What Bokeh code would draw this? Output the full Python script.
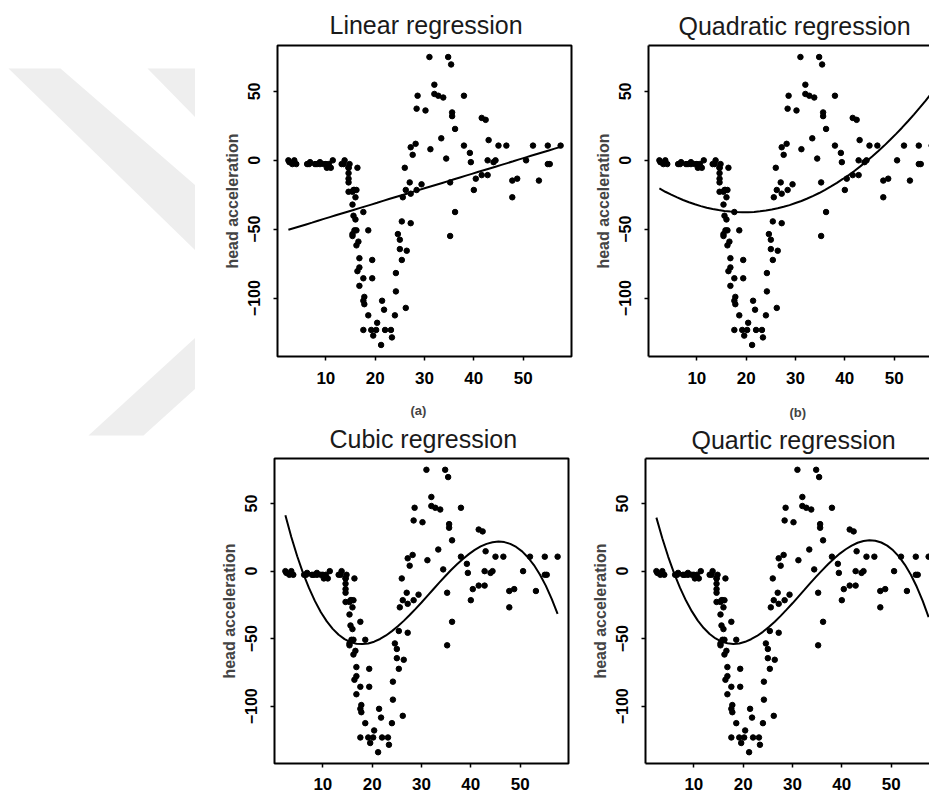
from bokeh.plotting import figure
from bokeh.layouts import row, column
from bokeh.models import Range1d, FixedTicker, LinearAxis, Title
from bokeh.embed import file_html
from bokeh.resources import INLINE

times = [2.4, 2.6, 3.2, 3.6, 4.0, 6.2, 6.6, 6.8, 7.8, 8.2, 8.8, 8.8, 9.6, 10.0, 10.2,
         10.6, 11.0, 11.4, 13.2, 13.6, 13.8, 14.6, 14.6, 14.6, 14.6, 14.6, 14.6, 14.8, 15.4, 15.4,
         15.4, 15.4, 15.6, 15.6, 15.8, 15.8, 16.0, 16.0, 16.2, 16.2, 16.2, 16.4, 16.4, 16.6, 16.8,
         16.8, 16.8, 17.6, 17.6, 17.6, 17.6, 17.8, 17.8, 18.6, 18.6, 19.2, 19.4, 19.4, 19.6, 20.2,
         20.4, 21.2, 21.4, 21.8, 22.0, 23.2, 23.4, 24.0, 24.2, 24.2, 24.6, 25.0, 25.0, 25.4, 25.4,
         25.6, 26.0, 26.2, 26.2, 26.4, 27.0, 27.2, 27.2, 27.2, 27.6, 28.2, 28.4, 28.4, 28.6, 29.4,
         30.2, 31.0, 31.2, 32.0, 32.0, 32.8, 33.4, 33.8, 34.4, 34.8, 35.2, 35.2, 35.4, 35.6, 35.6,
         36.2, 36.2, 38.0, 38.0, 39.2, 39.4, 40.0, 40.4, 41.6, 41.6, 42.4, 42.8, 42.8, 43.0, 44.0,
         44.4, 45.0, 46.6, 47.8, 47.8, 48.8, 50.6, 52.0, 53.2, 55.0, 55.0, 55.4, 57.6]
accel = [0.0, -1.3, -2.7, 0.0, -2.7, -2.7, -2.7, -1.3, -2.7, -2.7,
         -1.3, -2.7, -2.7, -2.7, -5.4, -2.7, -5.4, 0.0, -2.7, -2.7,
         0.0, -13.3, -5.4, -5.4, -9.3, -16.0, -22.8, -2.7, -22.8, -32.1,
         -53.5, -54.9, -40.2, -21.5, -21.5, -50.8, -42.9, -26.8, -21.5, -50.8,
         -61.7, -5.4, -80.4, -59.0, -71.0, -91.1, -77.7, -37.5, -85.6, -123.1,
         -101.9, -99.1, -104.4, -112.5, -50.8, -123.1, -85.6, -72.3, -127.2, -123.1,
         -117.9, -134.0, -101.9, -108.4, -123.1, -123.1, -128.5, -112.5, -95.1, -81.8,
         -53.5, -64.4, -57.6, -72.3, -44.3, -26.8, -5.4, -107.1, -21.5, -65.6,
         -16.0, -45.6, -24.2, 9.5, 4.0, 12.0, -21.5, 37.5, 46.9, -17.4,
         36.2, 75.0, 8.1, 54.9, 48.2, 46.9, 16.0, 45.6, 1.3, 75.0,
         -16.0, -54.9, 69.6, 34.8, 32.1, -37.5, 22.8, 46.9, 10.7, 5.4,
         -1.3, -21.5, -13.3, 30.8, -10.7, 29.4, 0.0, -10.7, 14.7, -1.3,
         0.0, 10.7, 10.7, -26.8, -14.7, -13.3, 0.0, 10.7, -14.7, -2.7,
         10.7, -2.7, 10.7]

# x positions at which the fitted curves were read (2.4 .. 57.6 every 1.2)
curve_x = [2.4, 3.6, 4.8, 6.0, 7.2, 8.4, 9.6, 10.8, 12.0, 13.2, 14.4, 15.6, 16.8, 18.0,
           19.2, 20.4, 21.6, 22.8, 24.0, 25.2, 26.4, 27.6, 28.8, 30.0, 31.2, 32.4, 33.6,
           34.8, 36.0, 37.2, 38.4, 39.6, 40.8, 42.0, 43.2, 44.4, 45.6, 46.8, 48.0, 49.2,
           50.4, 51.6, 52.8, 54.0, 55.2, 56.4, 57.6]
linear_fit = [-50.4, -49.1, -47.8, -46.5, -45.2, -43.8, -42.5, -41.2, -39.9, -38.6, -37.3,
              -36.0, -34.7, -33.4, -32.1, -30.8, -29.4, -28.1, -26.8, -25.5, -24.2, -22.9,
              -21.6, -20.3, -19.0, -17.7, -16.4, -15.1, -13.7, -12.4, -11.1, -9.8, -8.5,
              -7.2, -5.9, -4.6, -3.3, -2.0, -0.7, 0.7, 2.0, 3.3, 4.6, 5.9, 7.2, 8.5, 9.8]
quadratic_fit = [-20.4, -22.8, -24.9, -26.9, -28.8, -30.4, -31.9, -33.2, -34.4, -35.3, -36.1,
                 -36.8, -37.2, -37.5, -37.7, -37.6, -37.4, -37.0, -36.4, -35.7, -34.8, -33.7,
                 -32.5, -31.0, -29.5, -27.7, -25.8, -23.7, -21.4, -18.9, -16.3, -13.5, -10.6,
                 -7.5, -4.2, -0.7, 3.0, 6.8, 10.7, 14.9, 19.2, 23.7, 28.4, 33.2, 38.2, 43.4, 48.8]
cubic_fit = [41.3, 25.3, 11.0, -1.6, -12.6, -22.2, -30.4, -37.2, -42.7, -47.1, -50.3, -52.5,
             -53.7, -54.0, -53.5, -52.2, -50.2, -47.6, -44.4, -40.8, -36.8, -32.5, -27.9,
             -23.2, -18.3, -13.4, -8.5, -3.8, 0.8, 5.1, 9.0, 12.6, 15.7, 18.3, 20.2, 21.4,
             21.9, 21.5, 20.2, 17.9, 14.6, 10.1, 4.5, -2.5, -10.7, -20.5, -31.7]
quartic_fit = [39.6, 24.3, 10.6, -1.6, -12.4, -21.8, -29.8, -36.6, -42.1, -46.5, -49.8, -52.1,
               -53.4, -53.9, -53.5, -52.3, -50.4, -48.0, -44.9, -41.4, -37.4, -33.1, -28.5,
               -23.8, -18.8, -13.9, -8.9, -4.1, 0.6, 5.1, 9.2, 13.0, 16.2, 18.9, 21.0, 22.3,
               22.9, 22.5, 21.2, 18.9, 15.4, 10.7, 4.7, -2.7, -11.6, -22.0, -34.1]

x_ticks = [10, 20, 30, 40, 50]
y_ticks = [-100, -50, 0, 50]
titles = ["Linear regression", "Quadratic regression", "Cubic regression", "Quartic regression"]
captions = ["(a)", "(b)"]
y_label = "head acceleration"

X0, X1 = 0.192, 59.808
Y0, Y1 = -142.36, 83.36
PX_PER_X = 294 / (X1 - X0)

# light-grey watermark band outlines (page pixels)
wm_a_x = [8, 60, 195, 195]
wm_a_y = [68, 68, 185, 250]
wm_b_x = [147, 195, 195]
wm_b_y = [68, 68, 117]
wm_c_x = [88, 143, 195, 195]
wm_c_y = [435, 435, 388, 337]


def panel(title, title_off, title_standoff, fw, fh, bl, br, bt, bb, right_cut, x_std,
          caption=None, cap_off=0):
    x_end = X0 + fw / PX_PER_X
    p = figure(frame_width=fw, frame_height=fh, min_border_left=bl, min_border_right=br,
               min_border_top=bt, min_border_bottom=bb, x_range=Range1d(X0, x_end),
               y_range=Range1d(Y0, Y1), output_backend="svg", toolbar_location=None,
               background_fill_color="white", border_fill_color="white")
    p.xgrid.visible = False
    p.ygrid.visible = False
    for ax in (p.xaxis[0], p.yaxis[0]):
        ax.major_tick_in = 0
        ax.major_tick_out = 4
        ax.major_tick_line_width = 1.5
        ax.major_tick_line_color = "black"
        ax.minor_tick_line_color = None
        ax.major_label_text_font = "Liberation Sans"
        ax.major_label_text_font_style = "bold"
        ax.major_label_text_color = "black"
    p.xaxis.ticker = FixedTicker(ticks=x_ticks)
    p.yaxis.ticker = FixedTicker(ticks=y_ticks)
    p.xaxis.major_label_text_font_size = "17px"
    p.yaxis.major_label_text_font_size = "16px"
    p.xaxis.major_label_standoff = x_std
    p.yaxis.major_label_standoff = 13
    p.yaxis.major_label_orientation = "vertical"
    p.yaxis.axis_label = y_label
    p.yaxis.axis_label_text_font = "Liberation Sans"
    p.yaxis.axis_label_text_font_style = "bold"
    p.yaxis.axis_label_text_font_size = "16px"
    p.yaxis.axis_label_standoff = 5
    if right_cut:
        p.outline_line_color = None
        for ax in (p.xaxis[0], p.yaxis[0]):
            ax.axis_line_width = 2
            ax.axis_line_color = "black"
        top = LinearAxis(ticker=FixedTicker(ticks=[]), major_label_text_font_size="0px",
                         axis_line_width=2, axis_line_color="black",
                         major_tick_line_color=None, minor_tick_line_color=None,
                         major_label_standoff=0)
        p.add_layout(top, "above")
    else:
        p.outline_line_color = "black"
        p.outline_line_width = 2
        p.xaxis.axis_line_color = None
        p.yaxis.axis_line_color = None
    t = Title(text=title, align="left", offset=title_off, text_font="Liberation Sans",
              text_font_size="25px", text_font_style="normal", text_color="#1a1a1a",
              standoff=title_standoff)
    p.add_layout(t, "above")
    if caption:
        cap = Title(text=caption, align="left", offset=cap_off, text_font="Liberation Sans",
                    text_font_size="13px", text_font_style="bold", standoff=0)
        p.add_layout(cap, "above")
    return p


fits = [linear_fit, quadratic_fit, cubic_fit, quartic_fit]
specs = [
    (titles[0], 52, 14, 294, 311, 82, 17, 45, 43, False, 11, None, 0),
    (titles[1], 30, 12, 281, 311, 60, 0, 45, 43, True, 11, None, 0),
    (titles[2], 55, 11, 294, 305, 79, 20, 59, 33, False, 10, captions[0], 136),
    (titles[3], 46, 9, 284, 305, 57, 0, 59, 33, True, 10, captions[1], 144),
]
panels = []
for i, s in enumerate(specs):
    p = panel(*s)
    p.scatter(times, accel, size=5.5, color="black")
    p.line(curve_x, fits[i], line_width=2, color="black")
    panels.append(p)

wm = figure(width=195, height=797, x_range=Range1d(0, 195), y_range=Range1d(797, 0),
            output_backend="svg", toolbar_location=None, min_border=0)
wm.axis.visible = False
wm.grid.visible = False
wm.outline_line_color = None
wm.patches([wm_a_x, wm_b_x, wm_c_x], [wm_a_y, wm_b_y, wm_c_y], color="#eeeeee", line_color=None)

layout = row(wm, column(row(panels[0], panels[1]), row(panels[2], panels[3])))
open("out.html", "w").write(file_html(layout, INLINE))
